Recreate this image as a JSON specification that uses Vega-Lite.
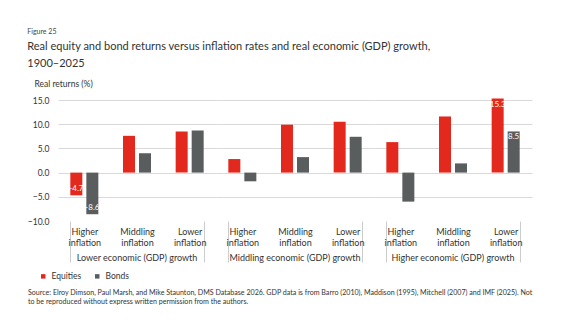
{
  "$schema": "https://vega.github.io/schema/vega-lite/v6.json",
  "background": "white",
  "padding": {"left": 27, "top": 28, "right": 10, "bottom": 5},
  "title": {
    "text": "Figure 25",
    "subtitle": ["Real equity and bond returns versus inflation rates and real economic (GDP) growth,", "1900–2025"],
    "anchor": "start",
    "dx": 0,
    "fontSize": 7,
    "fontWeight": "normal",
    "color": "#444444",
    "font": "Lato",
    "subtitleFont": "Lato",
    "subtitleFontSize": 11,
    "subtitleColor": "#333333",
    "subtitlePadding": 6,
    "subtitleLineHeight": 17,
    "offset": 10
  },
  "data": {
    "values": [
      {"growth": "Lower economic (GDP) growth", "inflation": "Higher inflation", "type": "Equities", "value": -4.7, "label": "-4.7"},
      {"growth": "Lower economic (GDP) growth", "inflation": "Higher inflation", "type": "Bonds", "value": -8.6, "label": "-8.6"},
      {"growth": "Lower economic (GDP) growth", "inflation": "Middling inflation", "type": "Equities", "value": 7.6},
      {"growth": "Lower economic (GDP) growth", "inflation": "Middling inflation", "type": "Bonds", "value": 4.0},
      {"growth": "Lower economic (GDP) growth", "inflation": "Lower inflation", "type": "Equities", "value": 8.5},
      {"growth": "Lower economic (GDP) growth", "inflation": "Lower inflation", "type": "Bonds", "value": 8.7},
      {"growth": "Middling economic (GDP) growth", "inflation": "Higher inflation", "type": "Equities", "value": 2.8},
      {"growth": "Middling economic (GDP) growth", "inflation": "Higher inflation", "type": "Bonds", "value": -1.8},
      {"growth": "Middling economic (GDP) growth", "inflation": "Middling inflation", "type": "Equities", "value": 9.9},
      {"growth": "Middling economic (GDP) growth", "inflation": "Middling inflation", "type": "Bonds", "value": 3.2},
      {"growth": "Middling economic (GDP) growth", "inflation": "Lower inflation", "type": "Equities", "value": 10.5},
      {"growth": "Middling economic (GDP) growth", "inflation": "Lower inflation", "type": "Bonds", "value": 7.4},
      {"growth": "Higher economic (GDP) growth", "inflation": "Higher inflation", "type": "Equities", "value": 6.3},
      {"growth": "Higher economic (GDP) growth", "inflation": "Higher inflation", "type": "Bonds", "value": -6.0},
      {"growth": "Higher economic (GDP) growth", "inflation": "Middling inflation", "type": "Equities", "value": 11.6},
      {"growth": "Higher economic (GDP) growth", "inflation": "Middling inflation", "type": "Bonds", "value": 1.9},
      {"growth": "Higher economic (GDP) growth", "inflation": "Lower inflation", "type": "Equities", "value": 15.3, "label": "15.3"},
      {"growth": "Higher economic (GDP) growth", "inflation": "Lower inflation", "type": "Bonds", "value": 8.5, "label": "8.5"}
    ]
  },
  "facet": {
    "column": {
      "field": "growth",
      "type": "nominal",
      "sort": ["Lower economic (GDP) growth", "Middling economic (GDP) growth", "Higher economic (GDP) growth"],
      "title": null,
      "header": {
        "labelOrient": "bottom",
        "labelFont": "Lato",
        "labelFontSize": 9,
        "labelColor": "#333333",
        "labelPadding": -9
      }
    }
  },
  "spacing": 0,
  "spec": {
    "width": 158,
    "height": 121,
    "encoding": {
      "x": {
        "field": "inflation",
        "type": "nominal",
        "sort": ["Higher inflation", "Middling inflation", "Lower inflation"],
        "scale": {"paddingInner": 0.468, "paddingOuter": 0.234},
        "axis": {
          "title": null,
          "domain": false,
          "labelAngle": 0,
          "labelExpr": "split(datum.label, ' ')",
          "labelFont": "Lato",
          "labelFontSize": 9,
          "labelColor": "#333333",
          "labelLineHeight": 11,
          "labelPadding": -35,
          "labelBaseline": "top",
          "tickBand": "extent",
          "tickSize": 41,
          "tickColor": "#cccccc",
          "tickOpacity": {"condition": {"test": "datum.value === 'Higher inflation' || datum.value === 'Middling inflation'", "value": 0}, "value": 1}
        }
      },
      "xOffset": {
        "field": "type",
        "type": "nominal",
        "sort": ["Equities", "Bonds"],
        "scale": {"paddingInner": 0.25, "paddingOuter": 0}
      },
      "y": {
        "field": "value",
        "type": "quantitative",
        "scale": {"domain": [-10, 15], "nice": false, "zero": false},
        "axis": {
          "title": "Real returns (%)",
          "titleAngle": 0,
          "titleAlign": "left",
          "titleBaseline": "bottom",
          "titleX": -24,
          "titleY": -12,
          "titleFont": "Lato",
          "titleFontSize": 8.5,
          "titleFontWeight": "normal",
          "titleColor": "#333333",
          "values": [-10, -5, 0, 5, 10, 15],
          "format": ".1f",
          "domain": false,
          "ticks": false,
          "labelFont": "Lato",
          "labelFontSize": 8.5,
          "labelColor": "#333333",
          "labelPadding": 9,
          "gridColor": "#d9d9d9",
          "gridOpacity": {"condition": {"test": "datum.value === -10", "value": 0}, "value": 1}
        }
      }
    },
    "layer": [
      {
        "mark": {"type": "bar"},
        "encoding": {
          "color": {
            "field": "type",
            "type": "nominal",
            "scale": {"domain": ["Equities", "Bonds"], "range": ["#e3291e", "#5a5d5e"]},
            "legend": {
              "orient": "none",
              "legendX": -30,
              "legendY": 172,
              "direction": "horizontal",
              "symbolType": "square",
              "symbolSize": 20,
              "symbolOffset": 11,
              "labelFont": "Lato",
              "labelFontSize": 8.5,
              "labelColor": "#333333",
              "columnPadding": 0,
              "title": ["Source: Elroy Dimson, Paul Marsh, and Mike Staunton, DMS Database 2026. GDP data is from Barro (2010), Maddison (1995), Mitchell (2007) and IMF (2025). Not", "to be reproduced without express written permission from the authors."],
              "titleOrient": "bottom",
              "titleAnchor": "start",
              "titleFont": "Lato",
              "titleFontSize": 7.1,
              "titleFontWeight": "normal",
              "titleColor": "#333333",
              "titleLimit": 0,
              "titleLineHeight": 9,
              "titlePadding": 8
            }
          }
        }
      },
      {
        "transform": [{"filter": "datum.label != null && datum.value > 0"}],
        "mark": {"type": "text", "baseline": "top", "dy": 2, "color": "white", "font": "Lato", "fontSize": 8},
        "encoding": {"text": {"field": "label", "type": "nominal"}}
      },
      {
        "transform": [{"filter": "datum.label != null && datum.value < 0"}],
        "mark": {"type": "text", "baseline": "bottom", "dy": -2, "color": "white", "font": "Lato", "fontSize": 8},
        "encoding": {"text": {"field": "label", "type": "nominal"}}
      }
    ]
  },
  "config": {
    "view": {"stroke": null},
    "font": "Lato"
  }
}
